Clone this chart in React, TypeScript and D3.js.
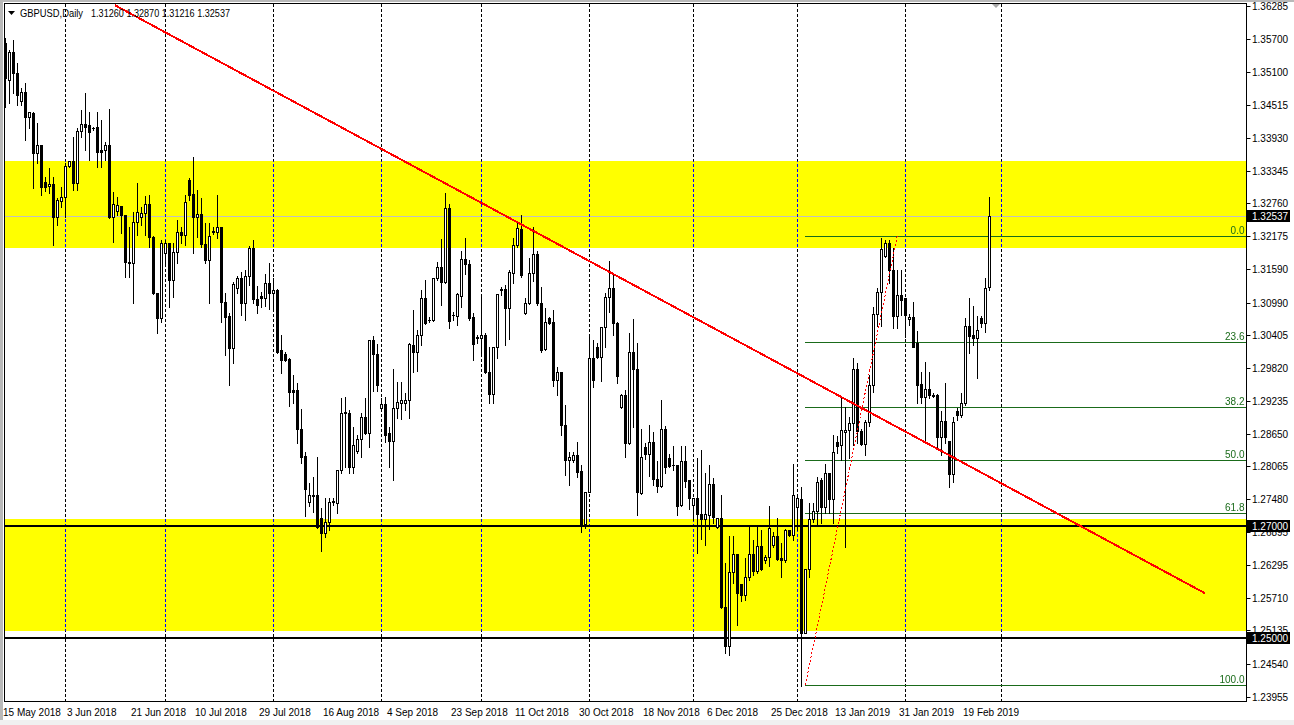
import { useEffect, useRef } from 'react'
import * as d3 from 'd3'

// GBPUSD daily, 15 May 2018 .. 26 Feb 2019 (feed has Sunday bars, 6 bars a week)
const opens = [
  1.3562, 1.3496, 1.3546, 1.3509, 1.3459, 1.3475, 1.3430, 1.3437, 1.3366, 1.3380,
  1.3314, 1.3307, 1.3311, 1.3252, 1.3280, 1.3288, 1.3343, 1.3352, 1.3312, 1.3405,
  1.3418, 1.3416, 1.3411, 1.3413, 1.3371, 1.3371, 1.3380, 1.3252, 1.3262, 1.3271,
  1.3255, 1.3171, 1.3169, 1.3243, 1.3252, 1.3259, 1.3275, 1.3216, 1.3116, 1.3071,
  1.3187, 1.3205, 1.3139, 1.3189, 1.3225, 1.3220, 1.3318, 1.3293, 1.3252, 1.3257,
  1.3204, 1.3175, 1.3225, 1.3225, 1.3234, 1.3100, 1.3075, 1.3018, 1.3125, 1.3143,
  1.3098, 1.3146, 1.3196, 1.3105, 1.3111, 1.3107, 1.3134, 1.3116, 1.3121, 1.3014,
  1.3007, 1.2998, 1.2943, 1.2943, 1.2873, 1.2825, 1.2743, 1.2755, 1.2755, 1.2714,
  1.2688, 1.2707, 1.2743, 1.2741, 1.2800, 1.2902, 1.2902, 1.2805, 1.2834, 1.2855,
  1.2895, 1.2866, 1.3032, 1.3007, 1.2911, 1.2918, 1.2866, 1.2852, 1.2911, 1.2920,
  1.2920, 1.2925, 1.3023, 1.3011, 1.3041, 1.3107, 1.3068, 1.3068, 1.3143, 1.3162,
  1.3136, 1.3268, 1.3077, 1.3075, 1.3111, 1.3177, 1.3168, 1.3073, 1.3037, 1.3036,
  1.3041, 1.2975, 1.2936, 1.3020, 1.3123, 1.3123, 1.3089, 1.3152, 1.3202, 1.3230,
  1.3080, 1.3098, 1.3152, 1.3186, 1.3098, 1.3016, 1.3071, 1.3064, 1.2961, 1.2975,
  1.2880, 1.2818, 1.2818, 1.2827, 1.2798, 1.2704, 1.2761, 1.3000, 1.3020, 1.3002,
  1.3055, 1.3109, 1.3125, 1.3062, 1.2912, 1.2934, 1.2848, 1.3011, 1.2980, 1.2759,
  1.2841, 1.2829, 1.2850, 1.2784, 1.2771, 1.2873, 1.2821, 1.2809, 1.2809, 1.2737,
  1.2816, 1.2782, 1.2737, 1.2750, 1.2721, 1.2712, 1.2720, 1.2775, 1.2698, 1.2714,
  1.2555, 1.2486, 1.2618, 1.2650, 1.2596, 1.2577, 1.2609, 1.2650, 1.2620, 1.2664,
  1.2639, 1.2645, 1.2666, 1.2682, 1.2643, 1.2639, 1.2693, 1.2684, 1.2734, 1.2748,
  1.2509, 1.2623, 1.2712, 1.2727, 1.2782, 1.2734, 1.2795, 1.2748, 1.2850, 1.2845,
  1.2868, 1.2871, 1.2884, 1.2980, 1.2870, 1.2846, 1.2886, 1.2952, 1.3079, 1.3118,
  1.3182, 1.3205, 1.3157, 1.3075, 1.3112, 1.3107, 1.3070, 1.3073, 1.3027, 1.2954,
  1.2930, 1.2945, 1.2934, 1.2934, 1.2859, 1.2888, 1.2852, 1.2793, 1.2905, 1.2898,
  1.2920, 1.3057, 1.3041, 1.3036, 1.3071, 1.3062, 1.3126,
]
const highs = [
  1.3571, 1.3550, 1.3568, 1.3527, 1.3482, 1.3491, 1.3439, 1.3439, 1.3420, 1.3380,
  1.3323, 1.3339, 1.3323, 1.3286, 1.3305, 1.3348, 1.3352, 1.3395, 1.3411, 1.3443,
  1.3473, 1.3439, 1.3413, 1.3439, 1.3425, 1.3386, 1.3445, 1.3296, 1.3287, 1.3271,
  1.3255, 1.3234, 1.3261, 1.3312, 1.3270, 1.3289, 1.3291, 1.3218, 1.3116, 1.3211,
  1.3211, 1.3205, 1.3205, 1.3246, 1.3234, 1.3291, 1.3321, 1.3359, 1.3300, 1.3286,
  1.3241, 1.3241, 1.3234, 1.3291, 1.3234, 1.3116, 1.3080, 1.3136, 1.3146, 1.3154,
  1.3157, 1.3200, 1.3211, 1.3129, 1.3118, 1.3150, 1.3170, 1.3143, 1.3123, 1.3041,
  1.3011, 1.3000, 1.2970, 1.2955, 1.2909, 1.2832, 1.2777, 1.2788, 1.2823, 1.2732,
  1.2750, 1.2750, 1.2750, 1.2800, 1.2929, 1.2930, 1.2907, 1.2877, 1.2863, 1.2902,
  1.2929, 1.3032, 1.3039, 1.3025, 1.2929, 1.2930, 1.2877, 1.2980, 1.2957, 1.2957,
  1.2937, 1.3027, 1.3086, 1.3050, 1.3121, 1.3139, 1.3073, 1.3143, 1.3171, 1.3213,
  1.3295, 1.3275, 1.3082, 1.3116, 1.3191, 1.3214, 1.3175, 1.3080, 1.3041, 1.3109,
  1.3045, 1.3020, 1.3020, 1.3114, 1.3127, 1.3130, 1.3157, 1.3214, 1.3243, 1.3255,
  1.3107, 1.3179, 1.3234, 1.3191, 1.3127, 1.3089, 1.3073, 1.3086, 1.2984, 1.2975,
  1.2916, 1.2832, 1.2832, 1.2850, 1.2809, 1.2761, 1.3037, 1.3032, 1.3027, 1.3055,
  1.3116, 1.3173, 1.3152, 1.3064, 1.2936, 1.2943, 1.3045, 1.3070, 1.3027, 1.2873,
  1.2848, 1.2880, 1.2868, 1.2816, 1.2925, 1.2879, 1.2829, 1.2843, 1.2809, 1.2843,
  1.2843, 1.2782, 1.2750, 1.2821, 1.2836, 1.2795, 1.2809, 1.2786, 1.2714, 1.2755,
  1.2634, 1.2682, 1.2682, 1.2650, 1.2596, 1.2643, 1.2702, 1.2675, 1.2702, 1.2693,
  1.2648, 1.2736, 1.2689, 1.2714, 1.2670, 1.2695, 1.2693, 1.2811, 1.2752, 1.2770,
  1.2623, 1.2741, 1.2741, 1.2788, 1.2786, 1.2811, 1.2795, 1.2862, 1.2861, 1.2930,
  1.2912, 1.2895, 1.3000, 1.2991, 1.2873, 1.2889, 1.2970, 1.3091, 1.3125, 1.3214,
  1.3211, 1.3211, 1.3196, 1.3157, 1.3157, 1.3107, 1.3079, 1.3100, 1.3048, 1.2975,
  1.2993, 1.2975, 1.2937, 1.2936, 1.2905, 1.2955, 1.2852, 1.2895, 1.2911, 1.2937,
  1.3071, 1.3107, 1.3093, 1.3075, 1.3075, 1.3143, 1.3287,
]
const lows = [
  1.3448, 1.3455, 1.3473, 1.3452, 1.3452, 1.3389, 1.3411, 1.3304, 1.3348, 1.3291,
  1.3298, 1.3295, 1.3202, 1.3238, 1.3270, 1.3252, 1.3341, 1.3300, 1.3300, 1.3395,
  1.3371, 1.3354, 1.3407, 1.3341, 1.3341, 1.3354, 1.3250, 1.3207, 1.3255, 1.3223,
  1.3145, 1.3145, 1.3098, 1.3220, 1.3238, 1.3220, 1.3198, 1.3114, 1.3045, 1.3064,
  1.3170, 1.3091, 1.3109, 1.3170, 1.3205, 1.3202, 1.3282, 1.3188, 1.3216, 1.3198,
  1.3170, 1.3098, 1.3221, 1.3214, 1.3064, 1.3005, 1.2952, 1.2991, 1.3116, 1.3077,
  1.3068, 1.3130, 1.3098, 1.3080, 1.3091, 1.3093, 1.3088, 1.3086, 1.3009, 1.2973,
  1.2995, 1.2914, 1.2920, 1.2848, 1.2813, 1.2718, 1.2736, 1.2725, 1.2696, 1.2655,
  1.2680, 1.2693, 1.2738, 1.2723, 1.2795, 1.2805, 1.2795, 1.2795, 1.2830, 1.2823,
  1.2864, 1.2841, 1.2941, 1.2941, 1.2907, 1.2850, 1.2805, 1.2782, 1.2893, 1.2891,
  1.2907, 1.2893, 1.2975, 1.2977, 1.3023, 1.3061, 1.3064, 1.3066, 1.3139, 1.3095,
  1.3134, 1.3054, 1.3068, 1.3059, 1.3091, 1.3150, 1.3068, 1.2996, 1.3027, 1.3005,
  1.2973, 1.2920, 1.2920, 1.3000, 1.3112, 1.3023, 1.3034, 1.3134, 1.3198, 1.3145,
  1.3079, 1.3097, 1.3137, 1.3095, 1.3011, 1.3014, 1.3061, 1.2950, 1.2934, 1.2862,
  1.2791, 1.2773, 1.2814, 1.2787, 1.2689, 1.2696, 1.2760, 1.2948, 1.3000, 1.2959,
  1.3020, 1.3082, 1.3041, 1.2955, 1.2911, 1.2823, 1.2846, 1.2877, 1.2720, 1.2757,
  1.2820, 1.2789, 1.2773, 1.2761, 1.2770, 1.2795, 1.2805, 1.2800, 1.2720, 1.2736,
  1.2770, 1.2730, 1.2711, 1.2652, 1.2677, 1.2666, 1.2695, 1.2705, 1.2696, 1.2554,
  1.2473, 1.2470, 1.2598, 1.2523, 1.2566, 1.2568, 1.2604, 1.2613, 1.2616, 1.2621,
  1.2634, 1.2629, 1.2662, 1.2639, 1.2609, 1.2636, 1.2682, 1.2675, 1.2693, 1.2414,
  1.2508, 1.2609, 1.2707, 1.2704, 1.2705, 1.2723, 1.2723, 1.2705, 1.2830, 1.2818,
  1.2662, 1.2821, 1.2845, 1.2848, 1.2845, 1.2827, 1.2879, 1.2939, 1.3057, 1.3057,
  1.3180, 1.3134, 1.3054, 1.3054, 1.3077, 1.3038, 1.3059, 1.3020, 1.2920, 1.2920,
  1.2850, 1.2929, 1.2930, 1.2841, 1.2827, 1.2848, 1.2770, 1.2779, 1.2889, 1.2895,
  1.2916, 1.3009, 1.3023, 1.2964, 1.3055, 1.3046, 1.3122,
]
const closes = [
  1.3500, 1.3546, 1.3509, 1.3470, 1.3475, 1.3430, 1.3439, 1.3366, 1.3380, 1.3305,
  1.3305, 1.3311, 1.3252, 1.3282, 1.3288, 1.3343, 1.3351, 1.3312, 1.3405, 1.3418,
  1.3413, 1.3404, 1.3410, 1.3368, 1.3368, 1.3380, 1.3252, 1.3275, 1.3273, 1.3255,
  1.3171, 1.3169, 1.3243, 1.3261, 1.3259, 1.3275, 1.3216, 1.3116, 1.3071, 1.3205,
  1.3205, 1.3139, 1.3189, 1.3225, 1.3220, 1.3279, 1.3291, 1.3252, 1.3257, 1.3204,
  1.3175, 1.3218, 1.3227, 1.3234, 1.3100, 1.3073, 1.3018, 1.3132, 1.3143, 1.3098,
  1.3146, 1.3196, 1.3105, 1.3095, 1.3107, 1.3134, 1.3116, 1.3121, 1.3011, 1.2996,
  1.2996, 1.2939, 1.2939, 1.2873, 1.2823, 1.2766, 1.2755, 1.2756, 1.2698, 1.2688,
  1.2707, 1.2743, 1.2744, 1.2800, 1.2902, 1.2903, 1.2805, 1.2845, 1.2855, 1.2895,
  1.2866, 1.3032, 1.3007, 1.2952, 1.2918, 1.2863, 1.2852, 1.2911, 1.2921, 1.2925,
  1.2925, 1.3025, 1.3011, 1.3041, 1.3107, 1.3062, 1.3067, 1.3143, 1.3162, 1.3136,
  1.3268, 1.3066, 1.3076, 1.3114, 1.3177, 1.3168, 1.3071, 1.3025, 1.3036, 1.3041,
  1.2975, 1.2936, 1.3020, 1.3114, 1.3122, 1.3089, 1.3154, 1.3202, 1.3232, 1.3148,
  1.3098, 1.3152, 1.3186, 1.3098, 1.3014, 1.3064, 1.3062, 1.2961, 1.2975, 1.2880,
  1.2818, 1.2823, 1.2827, 1.2796, 1.2704, 1.2761, 1.3000, 1.2961, 1.3002, 1.3055,
  1.3109, 1.3125, 1.3062, 1.2968, 1.2934, 1.2848, 1.3011, 1.2980, 1.2761, 1.2823,
  1.2829, 1.2850, 1.2784, 1.2771, 1.2873, 1.2805, 1.2807, 1.2808, 1.2736, 1.2816,
  1.2780, 1.2750, 1.2750, 1.2721, 1.2712, 1.2721, 1.2775, 1.2716, 1.2714, 1.2555,
  1.2486, 1.2618, 1.2650, 1.2580, 1.2577, 1.2609, 1.2650, 1.2620, 1.2664, 1.2623,
  1.2645, 1.2696, 1.2682, 1.2641, 1.2639, 1.2693, 1.2684, 1.2755, 1.2750, 1.2509,
  1.2623, 1.2712, 1.2727, 1.2779, 1.2734, 1.2795, 1.2748, 1.2832, 1.2843, 1.2871,
  1.2871, 1.2884, 1.2980, 1.2870, 1.2846, 1.2886, 1.2952, 1.3079, 1.3118, 1.3195,
  1.3205, 1.3157, 1.3075, 1.3112, 1.3104, 1.3077, 1.3073, 1.3020, 1.2952, 1.2930,
  1.2945, 1.2934, 1.2932, 1.2859, 1.2888, 1.2859, 1.2793, 1.2886, 1.2898, 1.2920,
  1.3057, 1.3039, 1.3036, 1.3050, 1.3062, 1.3125, 1.3254,
]

// time axis
const dateTickBars = [0, 16, 32, 48, 64, 80, 96, 112, 128, 144, 160, 176, 192, 208, 224, 240]
const dateTickLabels = [
  '15 May 2018', '3 Jun 2018', '21 Jun 2018', '10 Jul 2018', '29 Jul 2018', '16 Aug 2018',
  '4 Sep 2018', '23 Sep 2018', '11 Oct 2018', '30 Oct 2018', '18 Nov 2018', '6 Dec 2018',
  '25 Dec 2018', '13 Jan 2019', '31 Jan 2019', '19 Feb 2019',
]
const monthStartBars = [15, 40, 67, 94, 119, 146, 172, 198, 225, 249]

// price axis
const priceTicks = [
  1.36285, 1.357, 1.351, 1.34515, 1.3393, 1.33345, 1.3276, 1.32175, 1.3159, 1.3099, 1.30405,
  1.2982, 1.29235, 1.2865, 1.28065, 1.2748, 1.26895, 1.26295, 1.2571, 1.25135, 1.2454, 1.23955,
]
const lastPrice = 1.32537
const levelPrices = [1.27, 1.25]
const markedPrices = [lastPrice, ...levelPrices]

// drawn objects
const zoneTops = [1.3352, 1.2712]
const zoneBottoms = [1.3197, 1.2513]
const fibLevels = [0, 23.6, 38.2, 50, 61.8, 100]
const fibBars = [200, 223]
const fibPrices = [1.2416, 1.3218]
const trendBars = [27.4, 299.9]
const trendPrices = [1.363, 1.258]

const headerSymbol = 'GBPUSD,Daily'
const headerValues = ['1.31260', '1.32870', '1.31216', '1.32537']

const W = 1294
const H = 725
const FONT = '"Liberation Sans", Arial, sans-serif'

export default function App() {
  const ref = useRef<SVGSVGElement>(null)

  useEffect(() => {
    document.body.style.margin = '0'
    if (!ref.current) return
    const svg = d3.select(ref.current)
    svg.selectAll('*').remove()

    const left = 4.5, top = 3.5, right = 1246.5, bottom = 701.5

    const x = d3.scaleLinear().domain([0, 246]).range([5.3, 989.3])
    const y = d3.scaleLinear().domain([1.23955, 1.36285]).range([696.5, 6])
    const px = (i: number) => Math.round(x(i))
    const py = (p: number) => Math.round(y(p))

    // window
    svg.append('rect').attr('width', W).attr('height', H).attr('fill', '#fff')
    svg.append('rect').attr('width', W).attr('height', 2).attr('fill', '#b9b9b9')
    svg.append('rect').attr('width', 3).attr('height', H).attr('fill', '#b9b9b9')
    svg.append('rect').attr('y', 720).attr('width', W).attr('height', 5).attr('fill', '#f0f0f0')

    svg.append('defs').append('clipPath').attr('id', 'plot')
      .append('rect')
      .attr('x', left).attr('y', top)
      .attr('width', right - left).attr('height', bottom - top)

    const plot = svg.append('g').attr('clip-path', 'url(#plot)')
    plot.append('rect')
      .attr('x', left).attr('y', top)
      .attr('width', right - left).attr('height', bottom - top)
      .attr('fill', '#fff')

    // yellow zones
    plot.selectAll('.zone')
      .data(d3.range(zoneTops.length))
      .enter()
      .append('rect')
      .attr('x', left)
      .attr('y', i => py(zoneTops[i]))
      .attr('width', right - left)
      .attr('height', i => py(zoneBottoms[i]) - py(zoneTops[i]))
      .attr('fill', '#ffff00')

    // bid line
    plot.append('line')
      .attr('x1', left).attr('x2', right)
      .attr('y1', py(lastPrice) + 0.5).attr('y2', py(lastPrice) + 0.5)
      .attr('stroke', '#c0c0c0')

    // month separators (inverted over the zones like MT4)
    plot.selectAll('.sep')
      .data(monthStartBars)
      .enter()
      .append('line')
      .attr('x1', d => px(d) + 0.5)
      .attr('x2', d => px(d) + 0.5)
      .attr('y1', top)
      .attr('y2', bottom)
      .attr('stroke', '#fff')
      .attr('stroke-dasharray', '3,2')
      .attr('shape-rendering', 'crispEdges')
      .style('mix-blend-mode', 'difference')

    // fibonacci levels
    const fibPrice = (lv: number) => fibPrices[1] - (fibPrices[1] - fibPrices[0]) * lv / 100
    plot.selectAll('.fib')
      .data(fibLevels)
      .enter()
      .append('line')
      .attr('x1', px(fibBars[0]))
      .attr('x2', right)
      .attr('y1', d => py(fibPrice(d)) + 0.5)
      .attr('y2', d => py(fibPrice(d)) + 0.5)
      .attr('stroke', '#1a6b1a')
    plot.selectAll('.fib-label')
      .data(fibLevels)
      .enter()
      .append('text')
      .attr('x', right - 2)
      .attr('y', d => py(fibPrice(d)) - 2)
      .attr('text-anchor', 'end')
      .attr('fill', '#1a6b1a')
      .style('font-family', FONT)
      .style('font-size', '10px')
      .text(d => d3.format('.1f')(d))

    // horizontal levels
    plot.selectAll('.level')
      .data(levelPrices)
      .enter()
      .append('line')
      .attr('x1', left).attr('x2', right)
      .attr('y1', d => py(d)).attr('y2', d => py(d))
      .attr('stroke', '#000')
      .attr('stroke-width', 2)

    // candles
    const bars = d3.range(opens.length)
    const candles = plot.append('g').attr('shape-rendering', 'crispEdges')
    candles.selectAll('.wick')
      .data(bars)
      .enter()
      .append('line')
      .attr('x1', i => px(i) + 0.5)
      .attr('x2', i => px(i) + 0.5)
      .attr('y1', i => py(highs[i]))
      .attr('y2', i => py(lows[i]) + 1)
      .attr('stroke', '#000')

    const bear = bars.filter(i => closes[i] < opens[i])
    const bull = bars.filter(i => closes[i] >= opens[i])
    candles.selectAll('.bear')
      .data(bear)
      .enter()
      .append('rect')
      .attr('x', i => px(i) - 1)
      .attr('y', i => py(opens[i]))
      .attr('width', 3)
      .attr('height', i => Math.max(1, py(closes[i]) - py(opens[i]) + 1))
      .attr('fill', '#000')
    candles.selectAll('.bull')
      .data(bull)
      .enter()
      .append('rect')
      .attr('x', i => px(i) - 0.5)
      .attr('y', i => py(closes[i]) + 0.5)
      .attr('width', 2)
      .attr('height', i => Math.max(1, py(opens[i]) - py(closes[i])))
      .attr('fill', '#fff')
      .attr('stroke', '#000')

    // trend line
    plot.append('line')
      .attr('x1', x(trendBars[0])).attr('y1', y(trendPrices[0]))
      .attr('x2', x(trendBars[1])).attr('y2', y(trendPrices[1]))
      .attr('stroke', '#ff0000')
      .attr('stroke-width', 2)
      .attr('shape-rendering', 'crispEdges')

    // fibonacci base line
    plot.append('line')
      .attr('x1', x(fibBars[0])).attr('y1', y(fibPrices[0]))
      .attr('x2', x(fibBars[1])).attr('y2', y(fibPrices[1]))
      .attr('stroke', '#ff0000')
      .attr('stroke-dasharray', '2,2')
      .attr('shape-rendering', 'crispEdges')

    // shift marker
    svg.append('polygon')
      .attr('points', '992,4 1000,4 996,8')
      .attr('fill', '#a8a8a8')

    // frame
    svg.append('rect')
      .attr('x', left).attr('y', top)
      .attr('width', right - left).attr('height', bottom - top)
      .attr('fill', 'none')
      .attr('stroke', '#000')
      .attr('shape-rendering', 'crispEdges')

    // price axis
    svg.selectAll('.ptick')
      .data(priceTicks)
      .enter()
      .append('line')
      .attr('x1', right).attr('x2', right + 4)
      .attr('y1', d => py(d) + 0.5).attr('y2', d => py(d) + 0.5)
      .attr('stroke', '#000')
    svg.selectAll('.plabel')
      .data(priceTicks)
      .enter()
      .append('text')
      .attr('x', 1252)
      .attr('y', d => py(d) + 0.5)
      .attr('dy', '0.35em')
      .attr('fill', '#000')
      .style('font-family', FONT)
      .style('font-size', '10px')
      .text(d => d3.format('.5f')(d))

    const marks = svg.selectAll('.mark')
      .data(markedPrices)
      .enter()
      .append('g')
    marks.append('rect')
      .attr('x', 1247)
      .attr('y', d => py(d) - 6)
      .attr('width', 43)
      .attr('height', 12)
      .attr('fill', '#000')
    marks.append('text')
      .attr('x', 1252)
      .attr('y', d => py(d) + 0.5)
      .attr('dy', '0.35em')
      .attr('fill', '#fff')
      .style('font-family', FONT)
      .style('font-size', '10px')
      .text(d => d3.format('.5f')(d))

    // time axis
    svg.selectAll('.dlabel')
      .data(dateTickBars)
      .enter()
      .append('text')
      .attr('x', d => px(d) - 2)
      .attr('y', 716)
      .attr('fill', '#000')
      .style('font-family', FONT)
      .style('font-size', '10px')
      .text((_, i) => dateTickLabels[i])

    // header
    svg.append('polygon')
      .attr('points', '8,11 15,11 11.5,15')
      .attr('fill', '#000')
    svg.append('text')
      .attr('x', 20).attr('y', 17)
      .attr('textLength', 63)
      .attr('lengthAdjust', 'spacingAndGlyphs')
      .style('font-family', FONT)
      .style('font-size', '10.5px')
      .text(headerSymbol)
    svg.append('text')
      .attr('x', 91).attr('y', 17)
      .attr('textLength', 139)
      .attr('lengthAdjust', 'spacingAndGlyphs')
      .style('font-family', FONT)
      .style('font-size', '10.5px')
      .text(headerValues.join(' '))
  }, [])

  return <svg ref={ref} width={W} height={H} style={{ display: 'block' }} />
}
